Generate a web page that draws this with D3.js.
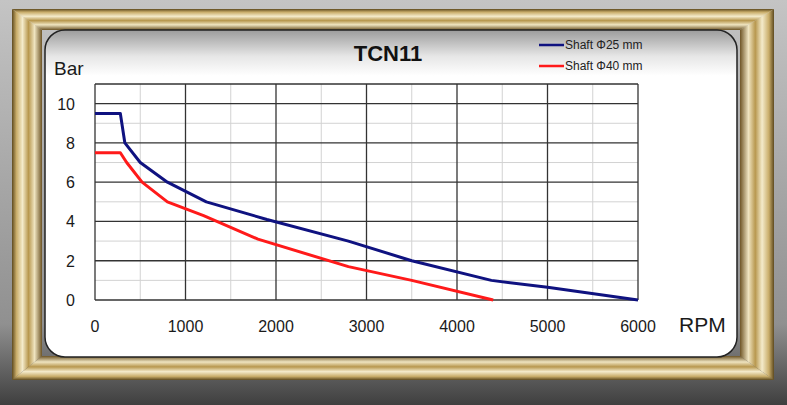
<!DOCTYPE html>
<html>
<head>
<meta charset="utf-8">
<script src="https://cdn.jsdelivr.net/npm/d3@7"></script>
<style>
  body { margin: 0; background: #8c8c8c; }
  svg { display: block; font-family: "Liberation Sans", Arial, sans-serif; }
</style>
</head>
<body>
<svg id="chart" width="787" height="405"></svg>
<script>
// data
var title = "TCN11";
var seriesNames = ["Shaft \u03A625 mm", "Shaft \u03A640 mm"];
var seriesColors = ["#0f1280", "#ff1a1a"];
var rpm25 = [0, 280, 330, 500, 800, 1230, 1900, 2800, 3500, 4380, 5000, 6000];
var bar25 = [9.5, 9.5, 8, 7, 6, 5, 4.1, 3, 2, 1, 0.65, 0];
var rpm40 = [0, 280, 350, 520, 800, 1200, 1800, 2800, 3500, 4400];
var bar40 = [7.5, 7.5, 7, 6, 5, 4.3, 3.1, 1.7, 1, 0];
var xTicks = [0, 1000, 2000, 3000, 4000, 5000, 6000];
var yTicks = [0, 2, 4, 6, 8, 10];

var svg = d3.select("#chart");
var defs = svg.append("defs");

function gradient(id, vertical, stops) {
  var gr = defs.append("linearGradient").attr("id", id)
    .attr("x1", 0).attr("y1", 0).attr("x2", vertical ? 0 : 1).attr("y2", vertical ? 1 : 0);
  stops.forEach(function(s) { gr.append("stop").attr("offset", s[0]).attr("stop-color", s[1]); });
}
// frame bands, outer edge first
var goldStops = [["0%", "#5e4a1f"], ["15%", "#c9ad6a"], ["35%", "#f4ebcb"], ["55%", "#b8984f"], ["75%", "#efe4c0"], ["100%", "#6e5526"]];
var goldStopsRev = goldStops.map(function(s) { return [(100 - parseFloat(s[0])) + "%", s[1]]; }).reverse();
gradient("goldTop", true, goldStops);
gradient("goldBottom", true, goldStopsRev);
gradient("goldLeft", false, goldStops);
gradient("goldRight", false, goldStopsRev);
gradient("panel", true, [["0%", "#9c9c9c"], ["8%", "#e6e6e6"], ["14%", "#ffffff"], ["100%", "#ffffff"]]);
gradient("bg", true, [["0%", "#c4c4c4"], ["80%", "#909090"], ["100%", "#3f3f3f"]]);

svg.append("rect").attr("width", 787).attr("height", 405).attr("fill", "url(#bg)");

// frame as four mitered pieces
var o = {x0: 12, y0: 9, x1: 774, y1: 380}, n = {x0: 42, y0: 30, x1: 740, y1: 356};
var pieces = [
  {fill: "url(#goldTop)", pts: [[o.x0, o.y0], [o.x1, o.y0], [n.x1, n.y0], [n.x0, n.y0]]},
  {fill: "url(#goldBottom)", pts: [[o.x0, o.y1], [o.x1, o.y1], [n.x1, n.y1], [n.x0, n.y1]]},
  {fill: "url(#goldLeft)", pts: [[o.x0, o.y0], [n.x0, n.y0], [n.x0, n.y1], [o.x0, o.y1]]},
  {fill: "url(#goldRight)", pts: [[o.x1, o.y0], [n.x1, n.y0], [n.x1, n.y1], [o.x1, o.y1]]}
];
svg.selectAll(".frame").data(pieces).enter().append("polygon")
  .attr("points", function(d) { return d.pts.join(" "); })
  .attr("fill", function(d) { return d.fill; });

// white panel
svg.append("rect").attr("x", 45).attr("y", 30).attr("width", 692).attr("height", 327)
  .attr("rx", 20).attr("fill", "url(#panel)").attr("stroke", "#222").attr("stroke-width", 1.5);

var margin = {left: 95, top: 84, right: 149, bottom: 105};
var width = 787 - margin.left - margin.right,
    height = 405 - margin.top - margin.bottom;

var x = d3.scaleLinear().domain([0, 6000]).range([0, width]);
var y = d3.scaleLinear().domain([0, 11]).range([height, 0]);

var g = svg.append("g").attr("transform", "translate(" + margin.left + "," + margin.top + ")");

// minor gridlines
g.selectAll(".minx").data(d3.range(500, 6000, 1000)).enter().append("line")
  .attr("x1", function(d) { return x(d); }).attr("x2", function(d) { return x(d); })
  .attr("y1", 0).attr("y2", height).attr("stroke", "#d2d2d2").attr("stroke-width", 1);
g.selectAll(".miny").data(d3.range(1, 11, 2)).enter().append("line")
  .attr("y1", function(d) { return y(d); }).attr("y2", function(d) { return y(d); })
  .attr("x1", 0).attr("x2", width).attr("stroke", "#d2d2d2").attr("stroke-width", 1);

// major gridlines
g.selectAll(".majx").data(xTicks).enter().append("line")
  .attr("x1", function(d) { return x(d); }).attr("x2", function(d) { return x(d); })
  .attr("y1", 0).attr("y2", height).attr("stroke", "#333").attr("stroke-width", 1.3);
g.selectAll(".majy").data(yTicks.concat([11])).enter().append("line")
  .attr("y1", function(d) { return y(d); }).attr("y2", function(d) { return y(d); })
  .attr("x1", 0).attr("x2", width).attr("stroke", "#333").attr("stroke-width", 1.3);

// tick labels
g.selectAll(".xl").data(xTicks).enter().append("text")
  .attr("x", function(d) { return x(d); }).attr("y", height + 32)
  .attr("text-anchor", "middle").attr("font-size", 16).attr("fill", "#1a1a1a").text(function(d) { return d; });
g.selectAll(".yl").data(yTicks).enter().append("text")
  .attr("x", -20).attr("y", function(d) { return y(d) + 6; })
  .attr("text-anchor", "end").attr("font-size", 16).attr("fill", "#1a1a1a").text(function(d) { return d; });

svg.append("text").attr("x", 54).attr("y", 75).attr("font-size", 19).attr("fill", "#1a1a1a").text("Bar");
svg.append("text").attr("x", 679).attr("y", 332).attr("font-size", 21).attr("fill", "#1a1a1a").text("RPM");
svg.append("text").attr("x", 388).attr("y", 61).attr("text-anchor", "middle")
  .attr("font-size", 22).attr("font-weight", "bold").attr("fill", "#111").text(title);

// curves
var line = d3.line().x(function(d) { return x(d[0]); }).y(function(d) { return y(d[1]); });
var series = [d3.zip(rpm25, bar25), d3.zip(rpm40, bar40)];
g.selectAll(".curve").data(series).enter().append("path")
  .attr("d", line).attr("fill", "none")
  .attr("stroke", function(d, i) { return seriesColors[i]; })
  .attr("stroke-width", 3).attr("stroke-linejoin", "round");

// legend
var legend = svg.append("g").selectAll("g").data(seriesNames).enter().append("g")
  .attr("transform", function(d, i) { return "translate(539," + (45 + i * 21) + ")"; });
legend.append("line").attr("x1", 0).attr("x2", 25).attr("y1", 0).attr("y2", 0)
  .attr("stroke", function(d, i) { return seriesColors[i]; }).attr("stroke-width", 2.5);
legend.append("text").attr("x", 26).attr("y", 4).attr("font-size", 12).attr("fill", "#222")
  .text(function(d) { return d; });
</script>
</body>
</html>
